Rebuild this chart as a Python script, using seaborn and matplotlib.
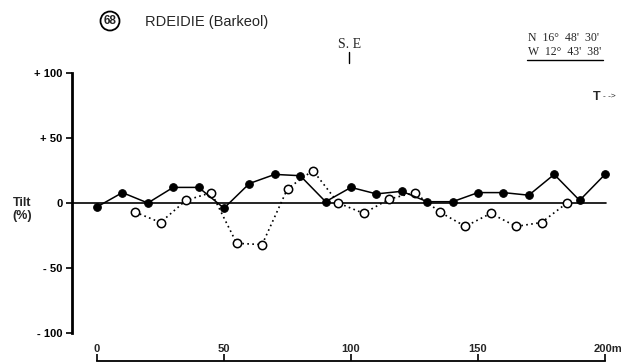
import matplotlib
matplotlib.use("Agg")
import matplotlib.pyplot as plt
from matplotlib.patches import Ellipse
import seaborn as sns
import pandas as pd

# Tilt profile, RDEIDIE (Barkeol): two survey series along a 200 m traverse
dist_filled = [0, 10, 20, 30, 40, 50, 60, 70, 80, 90, 100, 110, 120, 130, 140,
               150, 160, 170, 180, 190, 200]
tilt_filled = [-3, 8, 0, 12, 12, -4, 15, 22, 21, 1, 12, 7, 9, 1, 1,
               8, 8, 6, 22, 2, 22]

dist_open = [15, 25, 35, 45, 55, 65, 75, 85, 95, 105, 115, 125, 135, 145,
             155, 165, 175, 185]
tilt_open = [-7, -15, 2, 8, -31, -32, 11, 25, 0, -8, 3, 8, -7, -18,
             -8, -18, -15, 0]

y_ticks = [100, 50, 0, -50, -100]
y_tick_labels = ["+ 100", "+ 50", "0", "- 50", "- 100"]
x_ticks = [0, 50, 100, 150]
x_tick_labels = ["0", "50", "100", "150"]

sns.set_style("white")
plt.rcParams["font.family"] = ["Liberation Sans", "DejaVu Sans"]

W, H = 638, 363
fig = plt.figure(figsize=(W / 100, H / 100), dpi=100)

# pixel <-> data mapping of the profile frame
X0_PX, PX_PER_M = 97, 2.54
Y0_PX, PX_PER_PCT = 203, 1.3
LEFT_PX = 72
xlim = ((LEFT_PX - X0_PX) / PX_PER_M, (W - X0_PX) / PX_PER_M)
ylim = ((Y0_PX - H) / PX_PER_PCT, Y0_PX / PX_PER_PCT)

ax = fig.add_axes([LEFT_PX / W, 0, (W - LEFT_PX) / W, 1])
ax.set_xlim(*xlim)
ax.set_ylim(*ylim)
ax.patch.set_alpha(0)

df_f = pd.DataFrame({"d": dist_filled, "t": tilt_filled})
df_o = pd.DataFrame({"d": dist_open, "t": tilt_open})

# zero reference line
ax.plot([xlim[0], 200.5], [0, 0], color="black", lw=1.2, zorder=1)

sns.lineplot(data=df_o, x="d", y="t", ax=ax, color="black", lw=1.2,
             linestyle=(0, (1, 2)), marker="o", markersize=6,
             markerfacecolor="white", markeredgecolor="black",
             markeredgewidth=1.1, zorder=3)
sns.lineplot(data=df_f, x="d", y="t", ax=ax, color="black", lw=1.1,
             marker="o", markersize=5.5, markerfacecolor="black",
             markeredgecolor="black", zorder=4)

ax.set_xlabel("")
ax.set_ylabel("")

# spines
for s in ["top", "right"]:
    ax.spines[s].set_visible(False)
ax.spines["left"].set_bounds(-100, 100)
ax.spines["left"].set_linewidth(2)
ax.spines["left"].set_color("black")
ax.spines["bottom"].set_position(("data", (Y0_PX - 361) / PX_PER_PCT))
ax.spines["bottom"].set_bounds(0, 200)
ax.spines["bottom"].set_linewidth(1.3)
ax.spines["bottom"].set_color("black")

ax.set_yticks(y_ticks)
ax.set_yticklabels(y_tick_labels, fontsize=8, fontweight="bold")
ax.tick_params(axis="y", direction="out", length=4, width=1.2, pad=3,
               colors="black", left=True)

ax.set_xticks(x_ticks + [200])
ax.set_xticklabels([])
ax.tick_params(axis="x", direction="in", length=5, width=1.2, colors="black",
               bottom=True)
y_lab = (Y0_PX - 349) / PX_PER_PCT
for xv, lab in zip(x_ticks, x_tick_labels):
    ax.text(xv, y_lab, lab, ha="center", va="center", fontsize=8,
            fontweight="bold")
ax.text(195.5, y_lab, "200m", ha="left", va="center", fontsize=8,
        fontweight="bold")


def fx(px):
    return px / W


def fy(py):
    return 1 - py / H


# axis title
fig.text(fx(22), fy(203), "Tilt", ha="center", va="center", fontsize=9,
         fontweight="bold")
fig.text(fx(22), fy(216), "(%)", ha="center", va="center", fontsize=9,
         fontweight="bold")

# header: circled site number and name
fig.text(fx(110), fy(21), "68", ha="center", va="center", fontsize=8.5,
         fontweight="bold")
fig.patches.append(Ellipse((fx(110), fy(21)), 19 / W, 19 / H,
                           transform=fig.transFigure, fill=False,
                           ec="black", lw=1.3))
fig.text(fx(145), fy(22), "RDEIDIE (Barkeol)", ha="left", va="center",
         fontsize=10.5)

serif = ["Liberation Serif", "DejaVu Serif"]
fig.text(fx(528), fy(38), "N  16°  48'  30'", ha="left", va="center",
         fontsize=8.5, family=serif)
fig.text(fx(528), fy(52), "W  12°  43'  38'", ha="left", va="center",
         fontsize=8.5, family=serif)
fig.add_artist(plt.Line2D([fx(527), fx(603)], [fy(60), fy(60)], color="black",
                          lw=1.0, transform=fig.transFigure))

fig.text(fx(350), fy(44), "S. E", ha="center", va="center", fontsize=10,
         family=serif)
fig.add_artist(plt.Line2D([fx(349), fx(349)], [fy(52), fy(63)], color="black",
                          lw=1.0, transform=fig.transFigure))

fig.text(fx(597), fy(97), "T", ha="center", va="center", fontsize=9,
         fontweight="bold")
fig.text(fx(603), fy(97), "- ->", ha="left", va="center", fontsize=6)

fig.savefig("out.png", dpi=100, facecolor="white")
